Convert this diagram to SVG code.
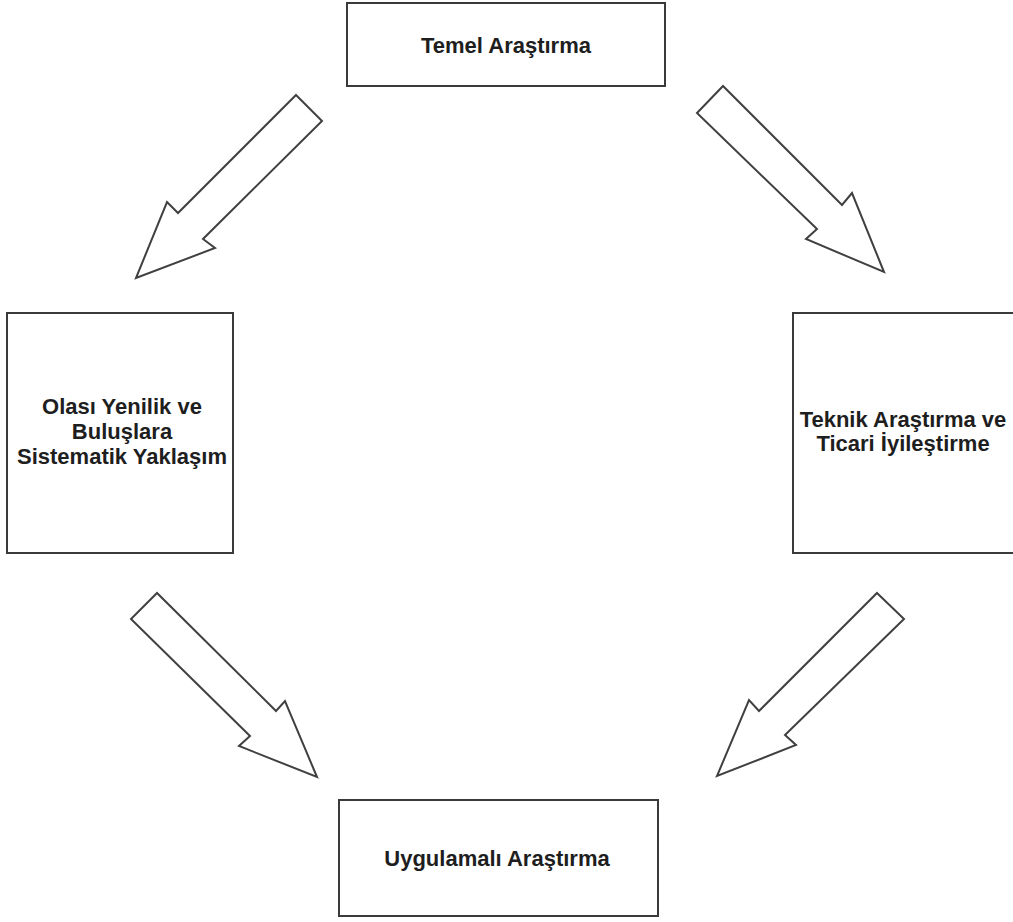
<svg xmlns="http://www.w3.org/2000/svg" width="1013" height="922" viewBox="0 0 1013 922">
  <style>
    .box { fill: #ffffff; stroke: #3a3a3a; stroke-width: 2; }
    .lbl { font-family: "Liberation Sans", Arial, Helvetica, sans-serif; font-size: 22px; font-weight: bold; fill: #1e1e1e; text-anchor: middle; }
    .flow { fill: #ffffff; stroke: #404040; stroke-width: 2; stroke-linejoin: miter; }
  </style>
  <rect width="1013" height="922" fill="#ffffff"/>

  <!-- block arrows between stages -->
  <g id="connectors">
    <polygon class="flow" points="296,95 322,121 203,239 215,248 136,278 167,202 178,213"/>
    <polygon class="flow" points="723,86 697,113 817,229 806,239 884,272 852,193 842,205"/>
    <polygon class="flow" points="157,593 131,619 250,736 239,746 317,777 285,701 276,711"/>
    <polygon class="flow" points="877,593 904,619 785,735 796,745 717,776 749,700 759,711"/>
  </g>

  <g id="temel">
    <rect class="box" x="347" y="3" width="318" height="83"/>
    <text class="lbl" x="506" y="53">Temel Araştırma</text>
  </g>

  <g id="olasi">
    <rect class="box" x="7" y="313" width="226" height="240"/>
    <text class="lbl" x="122" y="414">Olası Yenilik ve</text>
    <text class="lbl" x="122" y="439">Buluşlara</text>
    <text class="lbl" x="122" y="464">Sistematik Yaklaşım</text>
  </g>

  <g id="teknik">
    <rect class="box" x="793" y="313" width="224" height="240"/>
    <text class="lbl" x="903" y="427">Teknik Araştırma ve</text>
    <text class="lbl" x="903" y="451">Ticari İyileştirme</text>
  </g>

  <g id="uygulamali">
    <rect class="box" x="339" y="800" width="319" height="116"/>
    <text class="lbl" x="497" y="866">Uygulamalı Araştırma</text>
  </g>
</svg>
